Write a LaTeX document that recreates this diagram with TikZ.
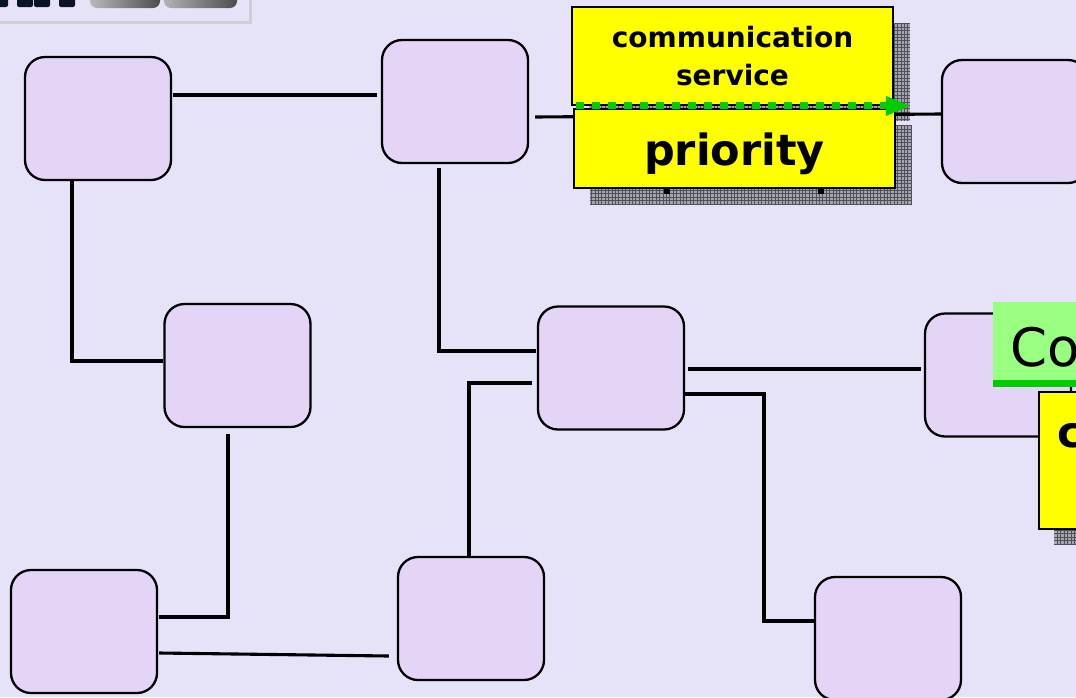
\documentclass[tikz,border=0pt]{standalone}
\usepackage{fontspec}
\setmainfont{DejaVu Sans}
\usetikzlibrary{arrows.meta,calc}
\definecolor{bg}{RGB}{230,227,249}
\definecolor{boxfill}{RGB}{228,212,246}
\definecolor{shadowgray}{RGB}{165,165,175}
\definecolor{gridline}{RGB}{80,80,90}
\definecolor{arrowgreen}{RGB}{0,204,0}
\definecolor{tabgreen}{RGB}{153,255,128}
\definecolor{calloutyellow}{RGB}{255,255,0}
\definecolor{navy}{RGB}{10,20,38}
\definecolor{framegray}{RGB}{206,206,214}

% hatched drop shadow behind a callout
\newcommand{\gridshadow}[2]{%
  \fill[shadowgray] #1 rectangle #2;
  \begin{scope}
    \clip #1 rectangle #2;
    \draw[gridline,line width=0.7pt,step=3.4pt] #1 grid #2;
  \end{scope}}

\begin{document}
\begin{tikzpicture}[x=1pt,y=-1pt,
  station/.style={draw=black,line width=2.3pt,fill=boxfill,rounded corners=20pt,
    minimum width=146pt,minimum height=123pt,inner sep=0pt},
  link/.style={line width=3.1pt,black},
  callout/.style={draw=black,line width=1.9pt,fill=calloutyellow,inner sep=0pt,
    font=\bfseries,align=center},
]
\useasboundingbox (0,0) rectangle (1076,697);
\clip (0,0) rectangle (1076,697);
\fill[bg] (0,0) rectangle (1076,697);

% logo strip in the upper left corner
\draw[framegray,line width=3pt] (-10,-10) rectangle (250,22.5);
\foreach \xa/\xb in {-8/8,17/33,34/50,59/75}
  \fill[navy,rounded corners=2pt] (\xa,-5) rectangle (\xb,7);
\shade[left color=gray!55,right color=black!70,rounded corners=7pt] (90,-10) rectangle (160,8);
\shade[left color=gray!60,right color=black!70,rounded corners=7pt] (164,-10) rectangle (237,8);

% stations
\node[station] (a) at (98,118.5) {};
\node[station] (b) at (455,101.5) {};
\node[station] (c) at (1015,121.5) {};
\node[station] (d) at (237.5,365.5) {};
\node[station] (e) at (611,368) {};
\node[station] (f) at (998,375) {};
\node[station] (g) at (84,631.5) {};
\node[station] (h) at (471,618.5) {};
\node[station] (i) at (888,638.5) {};

% callout shadows
\gridshadow{(589,23)}{(910,121)}
\gridshadow{(590,125)}{(912,205)}
\gridshadow{(1054,407)}{(1400,544)}

% links between stations
\draw[link] ([xshift=1pt]a.east |- 0,95) -- ([xshift=-4pt]b.west |- 0,95);
\draw[link] ([xshift=6pt]b.east |- 0,117) -- (c.west |- 0,114);
\draw[link,shorten <=4pt] (b.south -| 439,0) |- ([xshift=-1pt]e.west |- 0,351);
\draw[link] (a.south -| 72,0) |- (d.west |- 0,361);
\draw[link,shorten <=6pt] (d.south -| 228,0) |- ([xshift=1pt]g.east |- 0,617);
\draw[link] ([xshift=1pt]g.east |- 0,653) -- ([xshift=-8pt]h.west |- 0,656);
\draw[link] (h.north -| 469,0) |- ([xshift=-5pt]e.west |- 0,383);
\draw[link] ([xshift=3pt]e.east |- 0,369) -- ([xshift=-3pt]f.west |- 0,369);
\draw[link] (e.east |- 0,394) -| (764,621) -- (i.west |- 0,621);

% callouts
\node[callout,minimum width=321pt,minimum height=98pt,
  font=\bfseries\fontsize{28}{38}\selectfont] (cs) at (732.5,56) {communication\\service};
\node[callout,minimum width=321pt,minimum height=79pt,
  font=\bfseries\fontsize{43}{50}\selectfont] (prio) at (734.5,148.5)
  {\raisebox{-5pt}[\height][\depth]{priority}};
\fill[black] ($(prio.south west)+(91,0)$) rectangle ++(6,5);
\fill[black] ($(prio.south west)+(245,0)$) rectangle ++(6,5);

\draw[arrowgreen,line width=7pt,dash pattern=on 8pt off 8pt,
  -{Triangle[length=25pt,width=18pt]}]
  ([xshift=5pt]cs.south west) -- ([xshift=17pt]cs.south east);

\node[callout,anchor=north west,minimum width=321pt,minimum height=137pt] (yc) at (1038,391) {};
\node[anchor=base west,inner sep=0pt,font=\bfseries\fontsize{43}{50}\selectfont]
  (yctext) at ($(yc.north west)+(19,56)$) {c};

\fill[tabgreen] (993,302) rectangle (1100,381);
\fill[arrowgreen] (993,380) rectangle (1100,387);
\node[anchor=base west,inner sep=0pt,font=\fontsize{53}{60}\selectfont] (co) at (1010,366) {Co};
\end{tikzpicture}
\end{document}
